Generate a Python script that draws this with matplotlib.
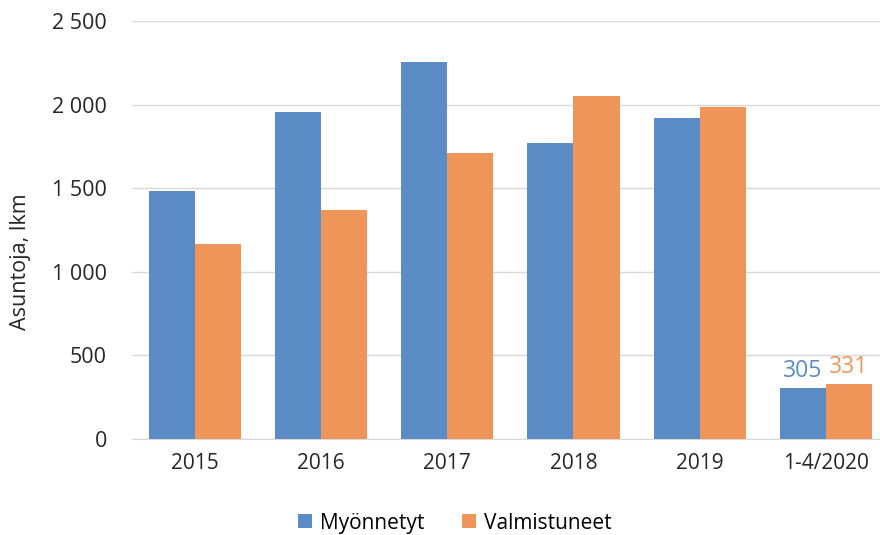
import numpy as np
import matplotlib.pyplot as plt

plt.rcParams['font.family'] = ['Open Sans', 'DejaVu Sans']

categories = ['2015', '2016', '2017', '2018', '2019', '1-4/2020']
myonnetyt = [1483, 1955, 2253, 1770, 1918, 305]
valmistuneet = [1166, 1370, 1710, 2050, 1985, 331]
yticks = [0, 500, 1000, 1500, 2000, 2500]
ytick_labels = ['0', '500', '1 000', '1 500', '2 000', '2 500']

blue = '#5B8CC6'
orange = '#F0955A'
txt = '#262626'

fig = plt.figure(figsize=(8.8, 5.35), dpi=100)
ax = fig.add_axes([0.15, 0.1794, 0.86, 0.7813])

x = np.arange(len(categories))
w = 0.365
ax.bar(x - w / 2, myonnetyt, w, color=blue, label='Myönnetyt', zorder=3)
ax.bar(x + w / 2, valmistuneet, w, color=orange, label='Valmistuneet', zorder=3)

# only the last period gets value labels
ax.text(x[-1] - w / 2, myonnetyt[-1] + 30, str(myonnetyt[-1]), color=blue,
        ha='center', va='bottom', fontsize=16.5)
ax.text(x[-1] + w / 2, valmistuneet[-1] + 30, str(valmistuneet[-1]), color=orange,
        ha='center', va='bottom', fontsize=16.5)

ax.set_xlim(-0.5, 5.5)
ax.set_ylim(0, 2500)
ax.set_yticks(yticks)
ax.set_yticklabels(ytick_labels, fontsize=15.5, color=txt)
ax.set_xticks(x)
ax.set_xticklabels(categories, fontsize=15, color=txt)
ax.tick_params(axis='x', length=0, pad=10)
ax.tick_params(axis='y', length=0, pad=18)
ax.grid(axis='y', color='#D9D9D9', linewidth=1, zorder=0)
for s in ['top', 'right', 'left']:
    ax.spines[s].set_visible(False)
ax.spines['bottom'].set_color('#D9D9D9')

fig.text(0.023, 0.51, 'Asuntoja, lkm', rotation=90, ha='center', va='center',
         fontsize=15.5, color=txt)

fig.legend(loc='center', bbox_to_anchor=(0.517, 0.022), ncol=2, frameon=False,
           fontsize=15, handlelength=0.65, handleheight=0.65, columnspacing=1.8,
           handletextpad=0.4)

fig.savefig('out.png', dpi=100)
